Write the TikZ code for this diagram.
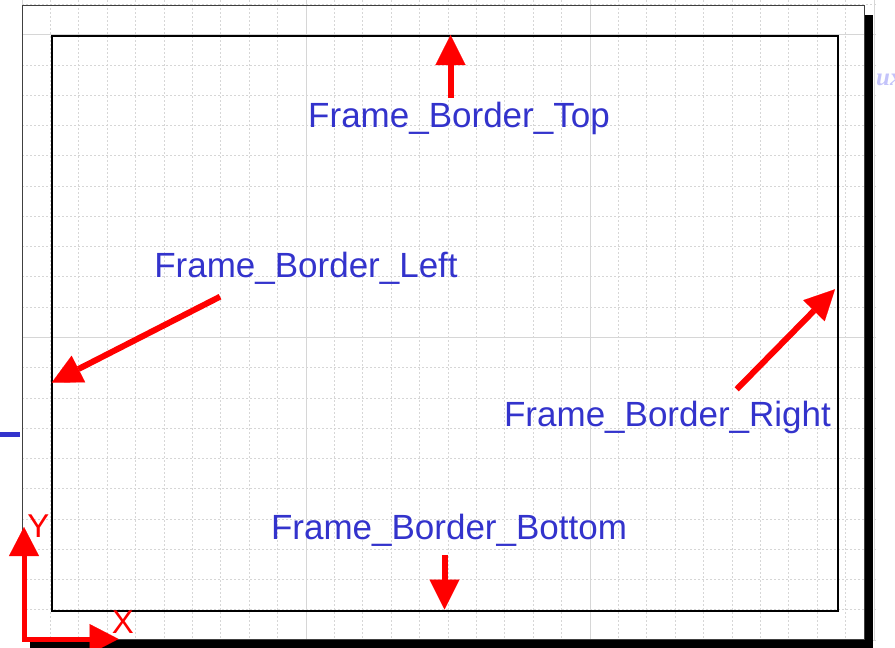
\documentclass[tikz,border=0pt]{standalone}
\usepackage{fontspec}
\setmainfont{Liberation Sans}
\newfontfamily\serifux{Liberation Serif}
\usetikzlibrary{arrows.meta}

\definecolor{lblblue}{RGB}{51,51,204}
\definecolor{gridgray}{RGB}{214,214,214}
\definecolor{ghost}{RGB}{195,195,250}

\begin{document}
\begin{tikzpicture}[x=1pt,y=-1pt,
  minorgrid/.style={draw=gridgray, line width=0.8pt, dash pattern=on 2pt off 2pt},
  majorgrid/.style={draw=gridgray, line width=0.9pt},
  pageedge/.style={draw=black!75, line width=1pt},
  frameline/.style={draw=black, line width=2pt},
  redarrow/.style={draw=red, line width=6pt,
    -{Triangle[length=30pt,width=30pt,line width=0.1pt]}},
  axisarrow/.style={draw=red, line width=5pt, line cap=rect,
    -{Triangle[length=29pt,width=30pt,line width=0.1pt]}},
  lbl/.style={text=lblblue, font=\fontsize{35}{40}\selectfont, inner sep=0pt, anchor=base},
  axislbl/.style={text=red, font=\fontsize{33}{40}\selectfont, inner sep=0pt},
]
\useasboundingbox (0,0) rectangle (895,648);

% background grid: dashed minor lines, solid every tenth line
\begin{scope}
  \clip (22,0) rectangle (876,640.5);
  \foreach \i in {0,...,30}
    \draw[minorgrid] ({22+\i*28.4},0) -- ({22+\i*28.4},640);
  \foreach \j in {0,...,21}
    \draw[minorgrid] (22,{640-\j*30.26}) -- (876,{640-\j*30.26});
  \foreach \i in {0,10,20,30}
    \draw[majorgrid] ({22+\i*28.4},0) -- ({22+\i*28.4},640);
  \foreach \j in {0,10,20}
    \draw[majorgrid] (22,{640-\j*30.26}) -- (876,{640-\j*30.26});
\end{scope}

% page outline and its drop shadow
\draw[pageedge] (22,5) rectangle (864,639.5);
\fill[black] (865,15) rectangle (873,648);
\fill[black] (30,640) rectangle (873,648);

% faint text behind the page
\node[text=ghost, font=\serifux\bfseries\itshape\fontsize{25}{30}\selectfont,
      anchor=base west, inner sep=0pt] (ghostText) at (876,85) {ux};

% small blue mark on the left margin
\draw[lblblue, line width=5.5pt] (0,434.5) -- (20,434.5);

% frame
\node[frameline, anchor=north west, inner sep=0pt,
      minimum width=786pt, minimum height=575pt] (frame) at (51,35) {};

% arrow end points
\coordinate (topTail) at (450.5,98);
\coordinate (topTip) at (450.5,35);
\coordinate (botTail) at (444.5,555);
\coordinate (botTip) at (444.5,609.5);
\coordinate (leftTail) at (220,296.7);
\coordinate (leftTip) at (51.7,382.7);
\coordinate (rightTail) at (736.7,389.3);
\coordinate (rightTip) at (835,289.3);

\draw[redarrow] (topTail) -- (topTip);
\draw[redarrow] (botTail) -- (botTip);
\draw[redarrow] (leftTail) -- (leftTip);
\draw[redarrow] (rightTail) -- (rightTip);

% labels
\node[lbl] (lTop) at (459,127.5) {Frame\_Border\_Top};
\node[lbl] (lLeft) at (306,277) {Frame\_Border\_Left};
\node[lbl] (lRight) at (667.5,426) {Frame\_Border\_Right};
\node[lbl] (lBottom) at (449,539) {Frame\_Border\_Bottom};

% coordinate axes
\coordinate (origin) at (24,639);
\coordinate (xTip) at (118.5,639);
\coordinate (yTip) at (24,527);
\draw[axisarrow] (origin) -- (yTip);
\draw[axisarrow] (origin) -- (xTip);
\node[axislbl] (xLabel) at (123,622) {X};
\node[axislbl] (yLabel) at (38.5,526) {Y};
\end{tikzpicture}
\end{document}
